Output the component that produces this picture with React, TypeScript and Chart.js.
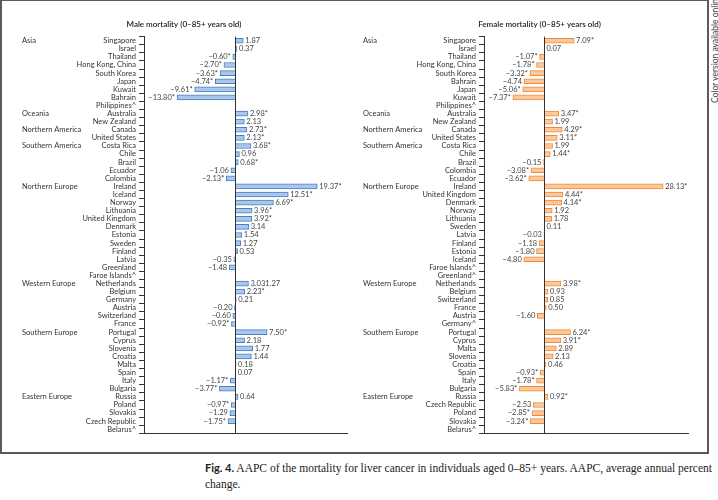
import React, { useEffect, useRef } from "react";
import { Chart, registerables } from "chart.js";
Chart.register(...registerables);

const FONT = "Lato, 'Liberation Sans', sans-serif";

const regionNames = ["Asia", "Oceania", "Northern America", "Southern America", "Northern Europe", "Western Europe", "Southern Europe", "Eastern Europe"];
const regionStartRows = [0, 9, 11, 13, 18, 30, 36, 44];

const maleCountries = ["Singapore", "Israel", "Thailand", "Hong Kong, China", "South Korea", "Japan", "Kuwait", "Bahrain", "Philippines^", "Australia", "New Zealand", "Canada", "United States", "Costa Rica", "Chile", "Brazil", "Ecuador", "Colombia", "Ireland", "Iceland", "Norway", "Lithuania", "United Kingdom", "Denmark", "Estonia", "Sweden", "Finland", "Latvia", "Greenland", "Faroe Islands^", "Netherlands", "Belgium", "Germany", "Austria", "Switzerland", "France", "Portugal", "Cyprus", "Slovenia", "Croatia", "Malta", "Spain", "Italy", "Bulgaria", "Russia", "Poland", "Slovakia", "Czech Republic", "Belarus^"];
const maleValues = [1.87, 0.37, -0.6, -2.7, -3.63, -4.74, -9.61, -13.8, null, 2.98, 2.13, 2.73, 2.13, 3.68, 0.96, 0.68, -1.06, -2.13, 19.37, 12.51, 9.0, 3.96, 3.92, 3.14, 1.54, 1.27, 0.53, -0.35, -1.48, null, 3.1, 2.23, 0.21, -0.2, -0.6, -0.92, 7.5, 2.18, 4.1, 3.8, 0.18, 0.07, -1.17, -3.77, 0.64, -0.97, -1.29, -1.75, null];
const maleLabels = ["1.87", "0.37", "−0.60*", "−2.70*", "−3.63*", "−4.74*", "−9.61*", "−13.80*", "", "2.98*", "2.13", "2.73*", "2.13*", "3.68*", "0.96", "0.68*", "−1.06", "−2.13*", "19.37*", "12.51*", "6.69*", "3.96*", "3.92*", "3.14", "1.54", "1.27", "0.53", "−0.35", "−1.48", "", "3.031.27", "2.23*", "0.21", "−0.20", "−0.60", "−0.92*", "7.50*", "2.18", "1.77", "1.44", "0.18", "0.07", "−1.17*", "−3.77*", "0.64", "−0.97*", "−1.29", "−1.75*", ""];

const femaleCountries = ["Singapore", "Israel", "Thailand", "Hong Kong, China", "South Korea", "Bahrain", "Japan", "Kuwait", "Philippines^", "Australia", "New Zealand", "Canada", "United States", "Costa Rica", "Chile", "Brazil", "Colombia", "Ecuador", "Ireland", "United Kingdom", "Denmark", "Norway", "Lithuania", "Sweden", "Latvia", "Finland", "Estonia", "Iceland", "Faroe Islands^", "Greenland^", "Netherlands", "Belgium", "Switzerland", "France", "Austria", "Germany^", "Portugal", "Cyprus", "Malta", "Slovenia", "Croatia", "Spain", "Italy", "Bulgaria", "Russia", "Czech Republic", "Poland", "Slovakia", "Belarus^"];
const femaleValues = [7.09, 0.07, -1.07, -1.78, -3.32, -4.74, -5.06, -7.37, null, 3.47, 1.99, 4.29, 3.11, 1.99, 1.44, -0.15, -3.08, -3.62, 28.13, 4.44, 4.14, 1.92, 1.78, 0.11, -0.03, -1.18, -1.8, -4.8, null, null, 3.98, 0.93, 0.85, 0.5, -1.6, null, 6.24, 3.91, 2.89, 2.13, 0.46, -0.93, -1.78, -5.83, 0.92, -2.53, -2.85, -3.24, null];
const femaleLabels = ["7.09*", "0.07", "−1.07*", "−1.78*", "−3.32*", "−4.74", "−5.06*", "−7.37*", "", "3.47*", "1.99", "4.29*", "3.11*", "1.99", "1.44*", "−0.15", "−3.08*", "−3.62*", "28.13*", "4.44*", "4.14*", "1.92", "1.78", "0.11", "−0.03", "−1.18", "−1.80", "−4.80", "", "", "3.98*", "0.93", "0.85", "0.50", "−1.60", "", "6.24*", "3.91*", "2.89", "2.13", "0.46", "−0.93*", "−1.78*", "−5.83*", "0.92*", "−2.53", "−2.85*", "−3.24*", ""];

const maleTitle = "Male mortality (0–85+ years old)";
const femaleTitle = "Female mortality (0–85+ years old)";

type PanelProps = {
  left: number;
  width: number;
  height: number;
  axisWidth: number;
  padRight: number;
  padTop: number;
  padBottom: number;
  xMin: number;
  xMax: number;
  countries: string[];
  values: (number | null)[];
  labels: string[];
  title: string;
  titleX: number;
  regionX: number;
  fill: string;
  stroke: string;
};

function Panel(p: PanelProps) {
  const ref = useRef<HTMLCanvasElement | null>(null);
  useEffect(() => {
    if (!ref.current) return;
    const overlay = {
      id: "overlay",
      afterDatasetsDraw(chart: any) {
        const ctx = chart.ctx as CanvasRenderingContext2D;
        const xs = chart.scales.x;
        const ys = chart.scales.y;
        const area = chart.chartArea;
        ctx.save();
        // zero line
        const x0 = Math.round(xs.getPixelForValue(0)) + 0.5;
        ctx.strokeStyle = "#333";
        ctx.lineWidth = 1;
        ctx.beginPath();
        ctx.moveTo(x0, area.top);
        ctx.lineTo(x0, area.bottom);
        ctx.stroke();
        // value labels
        ctx.font = `7.5px ${FONT}`;
        ctx.fillStyle = "#444";
        ctx.textBaseline = "middle";
        p.values.forEach((v, i) => {
          const t = p.labels[i];
          if (v === null || !t) return;
          const y = ys.getPixelForValue(i);
          const xe = xs.getPixelForValue(v);
          if (v >= 0) {
            ctx.textAlign = "left";
            ctx.fillText(t, xe + 2, y);
          } else {
            ctx.textAlign = "right";
            ctx.fillText(t, xe - 2, y);
          }
        });
        // region labels
        ctx.font = `7.5px ${FONT}`;
        ctx.fillStyle = "#333";
        ctx.textAlign = "left";
        regionNames.forEach((r, k) => {
          const y = ys.getPixelForValue(regionStartRows[k]);
          ctx.fillText(r, p.regionX, y);
        });
        // title
        ctx.font = `600 8px ${FONT}`;
        ctx.fillStyle = "#222";
        ctx.textAlign = "center";
        ctx.fillText(p.title, p.titleX, 24);
        ctx.restore();
      },
    };
    const chart = new Chart(ref.current, {
      type: "bar",
      data: {
        labels: p.countries,
        datasets: [
          {
            data: p.values as any,
            backgroundColor: p.fill,
            borderColor: p.stroke,
            borderWidth: 1,
            barThickness: 5,
          },
        ],
      },
      options: {
        indexAxis: "y",
        responsive: false,
        animation: false,
        devicePixelRatio: 1,
        layout: { padding: { left: 0, right: p.padRight, top: p.padTop, bottom: p.padBottom } },
        plugins: { legend: { display: false }, tooltip: { enabled: false }, title: { display: false } },
        scales: {
          x: {
            type: "linear",
            min: p.xMin,
            max: p.xMax,
            ticks: { display: false },
            grid: { display: false, drawTicks: false },
            border: { display: true, color: "#333", width: 1 },
            afterFit: (s: any) => {
              s.height = 0;
            },
          },
          y: {
            type: "category",
            ticks: { color: "#333", font: { family: FONT, size: 7.5 }, padding: 3, autoSkip: false },
            grid: { display: true, drawOnChartArea: false, drawTicks: true, tickLength: 5, color: "#333", offset: true },
            border: { display: true, color: "#333", width: 1 },
            afterFit: (s: any) => {
              s.width = p.axisWidth;
            },
          },
        },
      },
      plugins: [overlay],
    } as any);
    return () => chart.destroy();
  }, []);
  return (
    <canvas
      ref={ref}
      width={p.width}
      height={p.height}
      style={{ position: "absolute", left: p.left, top: 0, width: p.width, height: p.height }}
    />
  );
}

export default function App() {
  return (
    <div style={{ position: "fixed", left: 0, top: 0, width: 718, height: 500, background: "#fff", overflow: "hidden" }}>
      <div
        style={{
          position: "absolute",
          left: 0,
          top: -1,
          width: 709,
          height: 455,
          border: "2px solid #5a5a5a",
          boxSizing: "border-box",
        }}
      />
      <Panel
        left={0}
        width={359}
        height={452}
        axisWidth={144}
        padRight={12}
        padTop={36.7}
        padBottom={18.7}
        xMin={-21.6}
        xMax={26.4}
        countries={maleCountries}
        values={maleValues}
        labels={maleLabels}
        title={maleTitle}
        titleX={184}
        regionX={22}
        fill="#a9c6ec"
        stroke="#4a7fc1"
      />
      <Panel
        left={359}
        width={349}
        height={452}
        axisWidth={125}
        padRight={20}
        padTop={36.7}
        padBottom={18.7}
        xMin={-14.2}
        xMax={34}
        countries={femaleCountries}
        values={femaleValues}
        labels={femaleLabels}
        title={femaleTitle}
        titleX={180.5}
        regionX={4}
        fill="#fcc89b"
        stroke="#ef8a3a"
      />
      <div
        style={{
          position: "absolute",
          left: 709,
          top: 103,
          width: 120,
          height: 12,
          lineHeight: "12px",
          fontFamily: FONT,
          fontSize: 8.5,
          color: "#444",
          whiteSpace: "nowrap",
          transformOrigin: "left top",
          transform: "rotate(-90deg)",
        }}
      >
        Color version available online
      </div>
      <div
        style={{
          position: "absolute",
          left: 205,
          top: 460,
          fontFamily: "'Liberation Serif', serif",
          fontSize: 11.5,
          lineHeight: "16px",
          color: "#222",
          whiteSpace: "nowrap",
        }}
      >
        <span style={{ fontFamily: FONT, fontWeight: 700, fontSize: 11 }}>Fig. 4.</span> AAPC of the mortality for liver
        cancer in individuals aged 0–85+ years. AAPC, average annual percent
        <br />
        change.
      </div>
    </div>
  );
}
